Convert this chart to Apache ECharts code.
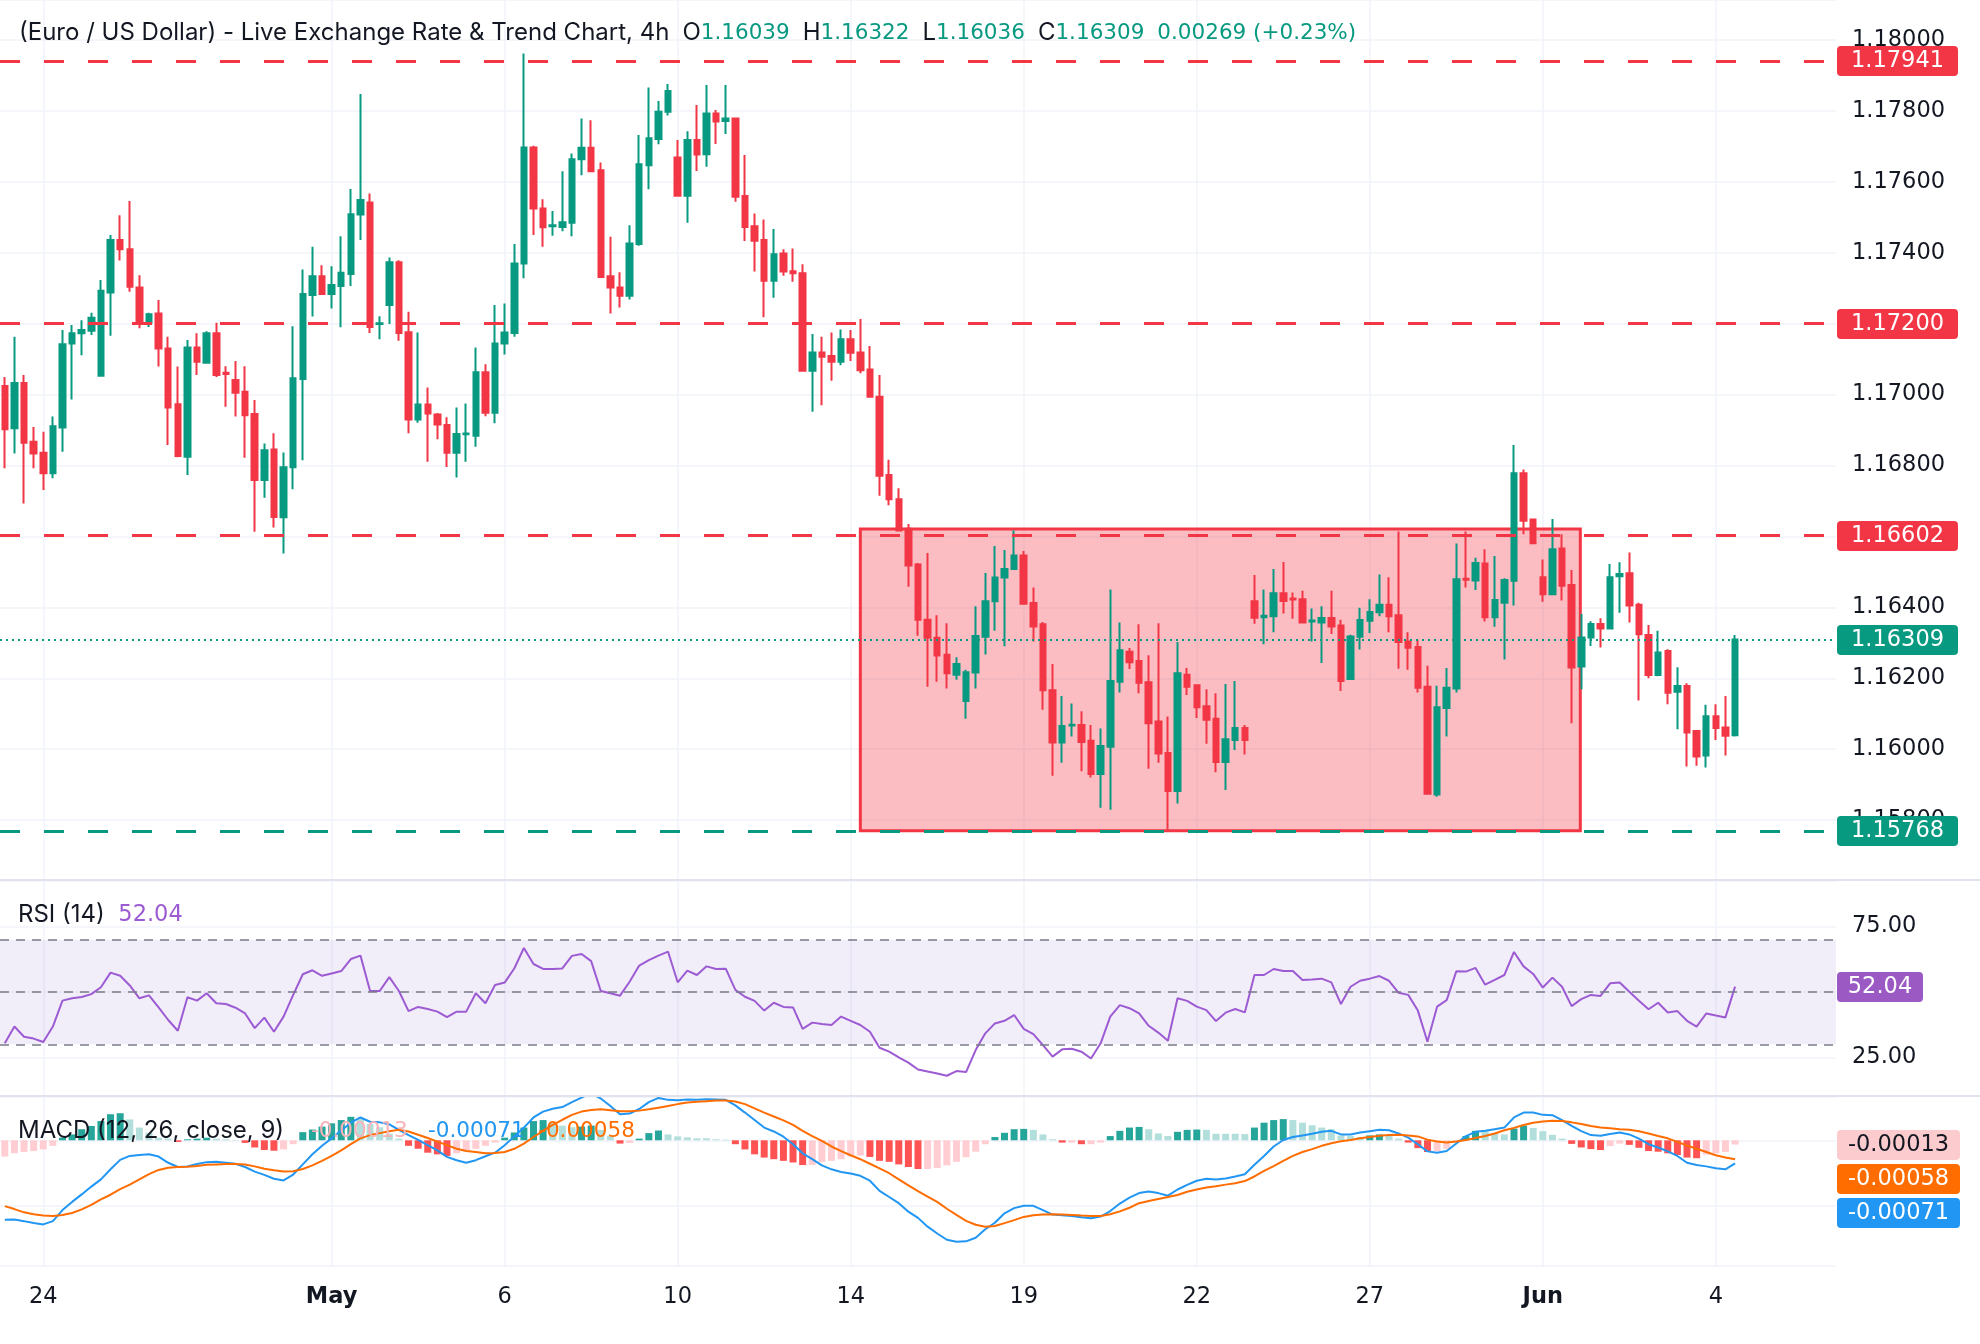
<!DOCTYPE html>
<html>
<head>
<meta charset="utf-8">
<title>EUR/USD 4h</title>
<script src="https://cdn.jsdelivr.net/npm/echarts@6/dist/echarts.min.js"></script>
<style>
  html, body { margin: 0; padding: 0; background: #ffffff; }
  #chart { width: 1980px; height: 1344px; }
</style>
</head>
<body>
<div id="chart"></div>
<script>
// ---- data ----
// 4h candles, [open, high, low, close]
const candles = [
  [1.17024,1.17050,1.16792,1.16902],[1.16905,1.17163,1.16834,1.17033],[1.17033,1.17055,1.16693,1.16864],[1.16867,1.16909,1.16792,1.16834],
  [1.16836,1.16895,1.16731,1.16778],[1.16778,1.16938,1.16764,1.16911],[1.16907,1.17182,1.16839,1.17142],[1.17144,1.17196,1.16986,1.17173],
  [1.17173,1.17210,1.17111,1.17182],[1.17180,1.17231,1.17168,1.17217],[1.17053,1.17323,1.17053,1.17293],[1.17288,1.17450,1.17166,1.17436],
  [1.17436,1.17506,1.17378,1.17410],[1.17410,1.17546,1.17290,1.17304],[1.17302,1.17337,1.17187,1.17201],[1.17203,1.17231,1.17191,1.17227],
  [1.17229,1.17267,1.17079,1.17130],[1.17130,1.17163,1.16858,1.16964],[1.16973,1.17079,1.16823,1.16827],[1.16825,1.17154,1.16773,1.17133],
  [1.17133,1.17173,1.17055,1.17093],[1.17090,1.17179,1.17090,1.17173],[1.17173,1.17203,1.17050,1.17055],[1.17062,1.17080,1.16966,1.17058],
  [1.17041,1.17095,1.16938,1.17005],[1.17008,1.17080,1.16822,1.16942],[1.16945,1.16985,1.16613,1.16759],[1.16759,1.16862,1.16709,1.16843],
  [1.16845,1.16891,1.16625,1.16655],[1.16654,1.16837,1.16552,1.16795],[1.16795,1.17193,1.16733,1.17046],[1.17044,1.17353,1.16815,1.17284],
  [1.17281,1.17417,1.17220,1.17334],[1.17334,1.17365,1.17281,1.17284],[1.17284,1.17362,1.17243,1.17309],[1.17306,1.17447,1.17190,1.17344],
  [1.17340,1.17580,1.17306,1.17509],[1.17508,1.17848,1.17436,1.17549],[1.17542,1.17567,1.17174,1.17191],[1.17199,1.17221,1.17156,1.17201],
  [1.17253,1.17387,1.17199,1.17373],[1.17373,1.17379,1.17152,1.17174],[1.17176,1.17234,1.16891,1.16930],[1.16930,1.17175,1.16921,1.16972],
  [1.16972,1.17020,1.16811,1.16947],[1.16944,1.16948,1.16874,1.16916],[1.16914,1.16936,1.16796,1.16836],[1.16836,1.16964,1.16766,1.16889],
  [1.16888,1.16975,1.16811,1.16890],[1.16884,1.17133,1.16853,1.17063],[1.17063,1.17086,1.16939,1.16949],[1.16949,1.17253,1.16919,1.17144],
  [1.17144,1.17257,1.17113,1.17175],[1.17174,1.17425,1.17163,1.17370],[1.17370,1.17962,1.17328,1.17697],[1.17697,1.17702,1.17450,1.17525],
  [1.17525,1.17551,1.17417,1.17472],[1.17475,1.17518,1.17448,1.17478],[1.17473,1.17630,1.17461,1.17486],[1.17485,1.17680,1.17447,1.17664],
  [1.17664,1.17779,1.17619,1.17696],[1.17696,1.17774,1.17629,1.17630],[1.17633,1.17655,1.17332,1.17332],[1.17334,1.17445,1.17229,1.17302],
  [1.17302,1.17345,1.17246,1.17279],[1.17279,1.17478,1.17268,1.17426],[1.17425,1.17732,1.17420,1.17650],[1.17647,1.17866,1.17579,1.17723],
  [1.17721,1.17828,1.17706,1.17798],[1.17798,1.17876,1.17787,1.17856],[1.17669,1.17718,1.17561,1.17561],[1.17561,1.17743,1.17485,1.17718],
  [1.17718,1.17817,1.17631,1.17677],[1.17678,1.17873,1.17643,1.17793],[1.17793,1.17803,1.17707,1.17770],[1.17772,1.17873,1.17735,1.17779],
  [1.17779,1.17781,1.17544,1.17558],[1.17560,1.17676,1.17433,1.17473],[1.17475,1.17511,1.17347,1.17434],[1.17436,1.17494,1.17218,1.17321],
  [1.17321,1.17467,1.17273,1.17396],[1.17398,1.17410,1.17335,1.17347],[1.17348,1.17412,1.17318,1.17342],[1.17342,1.17368,1.17067,1.17067],
  [1.17067,1.17171,1.16952,1.17119],[1.17119,1.17163,1.16970,1.17107],[1.17109,1.17175,1.17039,1.17093],[1.17093,1.17184,1.17083,1.17156],
  [1.17156,1.17182,1.17095,1.17118],[1.17119,1.17213,1.17060,1.17069],[1.17071,1.17137,1.16994,1.16994],[1.16994,1.17055,1.16715,1.16771],
  [1.16773,1.16816,1.16688,1.16705],[1.16705,1.16736,1.16614,1.16617],[1.16622,1.16635,1.16458,1.16518],[1.16521,1.16525,1.16320,1.16365],
  [1.16365,1.16553,1.16176,1.16314],[1.16314,1.16378,1.16190,1.16264],[1.16266,1.16355,1.16171,1.16214],[1.16210,1.16259,1.16196,1.16240],
  [1.16136,1.16224,1.16086,1.16217],[1.16216,1.16403,1.16171,1.16319],[1.16317,1.16497,1.16267,1.16417],[1.16417,1.16573,1.16334,1.16484],
  [1.16484,1.16562,1.16290,1.16508],[1.16508,1.16617,1.16508,1.16546],[1.16546,1.16559,1.16408,1.16410],[1.16412,1.16456,1.16304,1.16346],
  [1.16352,1.16359,1.16111,1.16166],[1.16166,1.16240,1.15925,1.16019],[1.16019,1.16150,1.15962,1.16065],[1.16067,1.16129,1.16036,1.16069],
  [1.16068,1.16107,1.15938,1.16020],[1.16024,1.16068,1.15920,1.15930],[1.15930,1.16058,1.15835,1.16009],[1.16007,1.16450,1.15829,1.16192],
  [1.16190,1.16357,1.16160,1.16279],[1.16275,1.16285,1.16226,1.16245],[1.16249,1.16352,1.16158,1.16187],[1.16189,1.16265,1.15945,1.16073],
  [1.16078,1.16355,1.15962,1.15988],[1.15989,1.16092,1.15773,1.15882],[1.15882,1.16302,1.15847,1.16214],[1.16210,1.16229,1.16153,1.16176],
  [1.16180,1.16182,1.16088,1.16118],[1.16121,1.16169,1.16015,1.16083],[1.16086,1.16158,1.15935,1.15964],[1.15964,1.16184,1.15885,1.16028],
  [1.16026,1.16192,1.15998,1.16060],[1.16060,1.16068,1.15985,1.16026],[1.16417,1.16491,1.16354,1.16371],[1.16372,1.16450,1.16296,1.16376],
  [1.16375,1.16508,1.16330,1.16440],[1.16440,1.16528,1.16383,1.16418],[1.16425,1.16442,1.16368,1.16422],[1.16423,1.16447,1.16357,1.16357],
  [1.16360,1.16397,1.16304,1.16363],[1.16357,1.16403,1.16243,1.16370],[1.16370,1.16447,1.16325,1.16346],[1.16349,1.16365,1.16164,1.16192],
  [1.16198,1.16323,1.16198,1.16318],[1.16317,1.16399,1.16281,1.16364],[1.16362,1.16423,1.16328,1.16387],[1.16386,1.16493,1.16375,1.16407],
  [1.16407,1.16485,1.16330,1.16375],[1.16378,1.16614,1.16227,1.16302],[1.16304,1.16330,1.16224,1.16286],[1.16288,1.16309,1.16160,1.16173],
  [1.16176,1.16235,1.15872,1.15874],[1.15872,1.16179,1.15866,1.16118],[1.16116,1.16229,1.16036,1.16173],[1.16171,1.16580,1.16160,1.16479],
  [1.16481,1.16614,1.16456,1.16478],[1.16476,1.16540,1.16449,1.16525],[1.16524,1.16564,1.16360,1.16372],[1.16372,1.16545,1.16345,1.16421],
  [1.16413,1.16482,1.16253,1.16477],[1.16475,1.16858,1.16405,1.16778],[1.16778,1.16789,1.16606,1.16644],[1.16648,1.16650,1.16581,1.16581],
  [1.16485,1.16535,1.16416,1.16437],[1.16437,1.16649,1.16437,1.16564],[1.16566,1.16606,1.16419,1.16461],[1.16463,1.16505,1.16073,1.16230],
  [1.16233,1.16381,1.16169,1.16315],[1.16315,1.16361,1.16291,1.16353],[1.16353,1.16369,1.16287,1.16340],[1.16340,1.16522,1.16340,1.16485],
  [1.16488,1.16527,1.16385,1.16494],[1.16496,1.16555,1.16357,1.16405],[1.16407,1.16413,1.16137,1.16324],[1.16322,1.16350,1.16200,1.16209],
  [1.16209,1.16334,1.16206,1.16273],[1.16277,1.16282,1.16127,1.16159],[1.16162,1.16231,1.16056,1.16178],[1.16178,1.16186,1.15951,1.16047],
  [1.16051,1.16053,1.15953,1.15979],[1.15982,1.16125,1.15948,1.16093],[1.16093,1.16127,1.16026,1.16060],[1.16061,1.16150,1.15982,1.16038],
  [1.16039,1.16322,1.16036,1.16309]
];

// RSI (14)
const rsi = [
  30.4,36.8,32.9,32.2,30.9,36.8,46.7,47.6,48.1,49.2,
  51.8,57.4,56.2,52.5,47.6,48.7,44.1,39.3,35.2,48.0,
  46.7,49.5,45.7,45.4,44.0,41.8,36.2,40.2,34.8,40.6,
  48.9,56.8,58.3,56.2,57.1,58.0,62.6,63.9,50.4,50.4,
  55.7,50.4,42.7,44.3,43.5,42.5,40.4,42.5,42.5,49.5,
  45.7,52.7,53.6,59.0,66.8,60.7,58.8,58.8,59.0,63.8,
  64.5,61.8,50.4,49.5,48.6,53.9,60.1,62.2,63.9,65.4,
  53.7,58.2,56.5,59.8,58.8,58.9,50.8,48.2,46.6,42.9,
  45.9,44.3,44.1,35.9,38.3,37.8,37.4,40.6,39.0,37.4,
  34.8,28.7,27.2,25.0,23.0,20.4,19.6,18.9,18.0,19.8,
  19.4,27.8,34.2,38.0,39.0,41.2,35.9,33.9,29.7,25.3,
  28.1,28.3,27.2,24.6,30.4,40.6,45.0,43.8,41.8,37.1,
  34.5,31.4,47.6,46.6,44.4,43.1,38.9,42.1,43.5,42.2,
  56.5,56.5,58.8,58.0,58.0,54.6,54.8,55.1,53.7,45.4,
  52.0,54.3,55.1,56.1,54.3,49.7,48.9,42.9,31.0,44.4,
  46.9,57.9,57.8,59.2,52.8,54.6,56.5,65.3,59.8,56.9,
  51.7,55.5,52.0,44.6,47.3,48.9,48.5,53.3,53.6,50.1,
  46.7,43.4,45.9,42.2,42.7,39.0,36.8,41.8,41.0,40.3,
  52.04
];

// MACD (12, 26, close, 9), in units of 0.00001
const macdE5 = [
  -244,-243,-248,-254,-258,-248,-214,-189,-166,-142,
  -120,-89,-60,-48,-45,-43,-50,-69,-82,-80,
  -73,-67,-66,-69,-72,-82,-96,-106,-118,-123,
  -105,-74,-43,-17,6,30,54,70,57,55,
  49,32,16,1,-15,-31,-51,-61,-69,-61,
  -49,-38,-15,12,39,70,88,97,102,117,
  131,145,128,105,80,82,96,117,130,124,
  123,125,124,126,125,124,107,85,62,39,
  27,11,-12,-40,-58,-77,-89,-97,-102,-109,
  -124,-155,-174,-193,-219,-238,-265,-286,-305,-311,
  -310,-299,-273,-253,-224,-208,-201,-201,-214,-228,
  -230,-232,-236,-239,-234,-217,-194,-176,-162,-157,
  -162,-170,-151,-137,-124,-118,-120,-117,-111,-104,
  -75,-48,-19,1,10,15,20,26,29,18,
  18,24,28,32,31,21,8,-12,-34,-38,
  -33,-10,13,26,29,34,39,70,85,85,
  78,77,62,44,28,16,14,19,24,18,
  5,-12,-22,-34,-48,-69,-76,-80,-86,-89,
  -71
];
const signalE5 = [
  -202,-211,-221,-227,-231,-232,-229,-223,-212,-198,
  -181,-167,-150,-136,-120,-104,-91,-84,-82,-81,
  -79,-75,-74,-73,-73,-74,-80,-87,-92,-96,
  -95,-88,-77,-63,-48,-31,-12,6,16,22,
  28,32,27,17,7,-4,-15,-26,-33,-36,
  -40,-39,-36,-26,-10,10,29,47,63,78,
  88,93,95,92,89,89,91,95,100,105,
  111,116,118,120,122,122,119,111,98,85,
  73,61,47,29,13,-2,-19,-33,-46,-58,
  -72,-86,-101,-120,-138,-156,-173,-189,-210,-229,
  -247,-259,-265,-263,-254,-245,-235,-230,-228,-227,
  -228,-229,-231,-232,-232,-227,-218,-207,-193,-186,
  -180,-174,-168,-158,-151,-145,-141,-136,-132,-125,
  -111,-94,-79,-63,-48,-36,-27,-17,-9,-3,
  1,6,10,14,16,17,15,12,2,-4,
  -7,-4,1,7,13,21,31,38,47,54,
  58,60,59,55,50,44,39,37,34,32,
  28,21,13,6,-5,-16,-26,-36,-46,-53,
  -58
];
const histE5 = [
  -50,-40,-36,-33,-28,-17,8,18,34,44,
  59,80,83,64,39,23,8,5,-5,3,
  5,8,5,3,1,-8,-22,-30,-32,-28,
  -12,25,33,42,52,62,72,68,50,40,
  20,5,-17,-26,-38,-43,-48,-40,-33,-26,
  -17,-7,8,24,39,59,62,55,45,40,
  42,45,32,13,-10,-8,5,22,30,18,
  12,9,6,6,3,2,-12,-28,-43,-53,
  -58,-63,-68,-76,-76,-67,-63,-58,-50,-47,
  -51,-63,-66,-74,-82,-88,-88,-85,-77,-66,
  -52,-35,-12,10,23,34,35,32,18,3,
  -7,-7,-12,-12,-7,13,29,39,41,34,
  21,13,26,32,33,32,20,20,20,19,
  39,54,62,65,62,54,46,39,34,15,
  13,10,15,18,15,5,-7,-24,-36,-34,
  -26,-6,13,29,29,21,18,36,45,38,
  28,17,5,-11,-22,-27,-30,-18,-10,-14,
  -23,-33,-35,-40,-45,-53,-55,-44,-40,-36,
  -13
];

// horizontal levels and the shaded range
const levelsRed = [1.17941, 1.17200, 1.16602];
const levelsGreen = [1.15768];
const lastPrice = 1.16309;
const rangeBox = [[89.0, 163.9, 1.15770, 1.16621]]; // [fromBar, toBar, low, high]

// header values
const headOHLC = ['1.16039', '1.16322', '1.16036', '1.16309'];
const headChange = '0.00269 (+0.23%)';

// time axis labels (bar index -> text)
const tickIndex = [4, 34, 52, 70, 88, 106, 124, 142, 160, 178];
const tickText = ['24', 'May', '6', '10', '14', '19', '22', '27', 'Jun', '4'];
const monthTicks = ['May', 'Jun'];

// ---- chart ----
const FONT = 'Inter, "Noto Sans", Roboto, sans-serif';
const NUM = '"DejaVu Sans", Inter, sans-serif';
const INK = '#131722';
const UP = '#089981';
const DOWN = '#F23645';
const GRID = '#F0F3FA';
const slots = 191; // bars + empty space on the right

const cats = [];
for (let i = 0; i < slots; i++) cats.push(String(i));
const isTick = (idx) => tickIndex.indexOf(idx) >= 0;

function catAxis(gi, withLabels) {
    return {
        type: 'category',
        gridIndex: gi,
        data: cats,
        boundaryGap: true,
        axisLine: { show: false },
        axisTick: { show: false },
        axisLabel: withLabels ? {
            interval: isTick,
            margin: 20,
            fontFamily: NUM,
            fontSize: 22.5,
            color: INK,
            formatter: function (v, idx) {
                const t = tickText[tickIndex.indexOf(idx)];
                return monthTicks.indexOf(t) >= 0 ? '{b|' + t + '}' : t;
            },
            rich: { b: { fontFamily: NUM, fontSize: 22.5, fontWeight: 'bold', color: INK } }
        } : { show: false },
        splitLine: { show: true, interval: isTick, alignWithLabel: true, lineStyle: { color: GRID, width: 1.5 } }
    };
}

const candleData = candles.map(c => [c[0], c[3], c[2], c[1]]);

const histData = histE5.map((v, i) => {
    const prev = i > 0 ? histE5[i - 1] : v;
    let color;
    if (v >= 0) color = v > prev ? '#26A69A' : '#B2DFDB';
    else color = v < prev ? '#FF5252' : '#FFCDD2';
    return { value: v / 1e5, itemStyle: { color: color } };
});

const levelLines = [];
levelsRed.forEach(v => levelLines.push({ yAxis: v, lineStyle: { color: DOWN, type: [20, 24], width: 3 } }));
levelsGreen.forEach(v => levelLines.push({ yAxis: v, lineStyle: { color: UP, type: [20, 24], width: 3 } }));
levelLines.push({ yAxis: lastPrice, lineStyle: { color: UP, type: [2, 4], width: 2 } });

const chart = echarts.init(document.getElementById('chart'), null, { renderer: 'canvas' });

const option = {
    animation: false,
    backgroundColor: '#ffffff',
    grid: [
        { left: 0, top: 0, width: 1836, height: 880 },
        { left: 0, top: 881, width: 1836, height: 215 },
        { left: 0, top: 1097, width: 1836, height: 169 }
    ],
    xAxis: [
        catAxis(0, false),
        catAxis(1, false),
        catAxis(2, true),
        { type: 'value', gridIndex: 0, min: -0.5, max: slots - 0.5, show: false }
    ],
    yAxis: [
        {
            type: 'value', gridIndex: 0, position: 'right',
            min: 1.15631, max: 1.18113, splitNumber: 12, minInterval: 0.002, maxInterval: 0.002,
            axisLine: { show: false }, axisTick: { show: false },
            axisLabel: {
                margin: 16, fontFamily: NUM, fontSize: 22.5, color: INK,
                showMinLabel: false, showMaxLabel: false,
                formatter: v => v.toFixed(5)
            },
            splitLine: { lineStyle: { color: GRID, width: 1.5 } }
        },
        {
            type: 'value', gridIndex: 1, position: 'right',
            min: 10.27, max: 92.41, splitNumber: 3, minInterval: 25, maxInterval: 25,
            axisLine: { show: false }, axisTick: { show: false },
            axisLabel: {
                margin: 16, fontFamily: NUM, fontSize: 22.5, color: INK,
                formatter: v => (v === 25 || v === 75) ? v.toFixed(2) : ''
            },
            splitLine: { lineStyle: { color: GRID, width: 1.5 } }
        },
        {
            type: 'value', gridIndex: 2, position: 'right',
            min: -0.003856, max: 0.001328, splitNumber: 3, minInterval: 0.002, maxInterval: 0.002,
            axisLine: { show: false }, axisTick: { show: false },
            axisLabel: { show: false },
            splitLine: { lineStyle: { color: GRID, width: 1.5 } }
        }
    ],
    series: [
        {
            name: 'range',
            type: 'custom',
            xAxisIndex: 3,
            yAxisIndex: 0,
            z: 1,
            silent: true,
            data: rangeBox,
            renderItem: function (params, api) {
                const a = api.coord([api.value(0), api.value(3)]);
                const b = api.coord([api.value(1), api.value(2)]);
                return {
                    type: 'rect',
                    shape: { x: a[0], y: a[1], width: b[0] - a[0], height: b[1] - a[1] },
                    style: { fill: 'rgba(242,54,69,0.33)', stroke: DOWN, lineWidth: 3 }
                };
            }
        },
        {
            name: 'EURUSD',
            type: 'candlestick',
            xAxisIndex: 0,
            yAxisIndex: 0,
            z: 3,
            barWidth: 6,
            data: candleData,
            itemStyle: { color: UP, color0: DOWN, borderColor: UP, borderColor0: DOWN, borderWidth: 2 },
            markLine: {
                silent: true,
                precision: 5,
                symbol: ['none', 'none'],
                label: { show: false },
                data: levelLines
            }
        },
        {
            name: 'RSI',
            type: 'line',
            xAxisIndex: 1,
            yAxisIndex: 1,
            data: rsi,
            showSymbol: false,
            lineStyle: { color: '#9C5BD2', width: 2 },
            markArea: {
                silent: true,
                itemStyle: { color: 'rgba(126,87,194,0.1)' },
                data: [[{ yAxis: 30 }, { yAxis: 70 }]]
            },
            markLine: {
                silent: true,
                symbol: ['none', 'none'],
                label: { show: false },
                lineStyle: { color: '#787B86', type: [9, 7], width: 1.5 },
                data: [{ yAxis: 70 }, { yAxis: 50 }, { yAxis: 30 }]
            }
        },
        {
            name: 'Histogram',
            type: 'bar',
            xAxisIndex: 2,
            yAxisIndex: 2,
            barWidth: 7,
            data: histData
        },
        {
            name: 'MACD',
            type: 'line',
            xAxisIndex: 2,
            yAxisIndex: 2,
            data: macdE5.map(v => v / 1e5),
            showSymbol: false,
            lineStyle: { color: '#2196F3', width: 2 }
        },
        {
            name: 'Signal',
            type: 'line',
            xAxisIndex: 2,
            yAxisIndex: 2,
            data: signalE5.map(v => v / 1e5),
            showSymbol: false,
            lineStyle: { color: '#FF6D00', width: 2 }
        }
    ]
};

chart.setOption(option);

// ---- value tags on the right scale and the pane legends ----
function tag(yc, w, text, bg, fg) {
    const top = Math.round(yc) - 15;
    return [
        { type: 'rect', z: 100, shape: { x: 1837, y: top, width: w, height: 30, r: 4 }, style: { fill: bg } },
        { type: 'text', z: 101, x: 1837 + w / 2, y: top + 15, style: { text: text, fill: fg, fontFamily: NUM, fontSize: 22.5, align: 'center', verticalAlign: 'middle' } }
    ];
}

const py = v => chart.convertToPixel({ yAxisIndex: 0 }, v);
const ry = v => chart.convertToPixel({ yAxisIndex: 1 }, v);
const my = v => chart.convertToPixel({ yAxisIndex: 2 }, v);

const last = candles.length - 1;
let tags = [];
levelsRed.forEach(v => { tags = tags.concat(tag(py(v), 121, v.toFixed(5), DOWN, '#ffffff')); });
tags = tags.concat(tag(py(lastPrice), 121, lastPrice.toFixed(5), UP, '#ffffff'));
levelsGreen.forEach(v => { tags = tags.concat(tag(py(v), 121, v.toFixed(5), UP, '#ffffff')); });
tags = tags.concat(tag(ry(rsi[last]), 86, rsi[last].toFixed(2), '#9B59C4', '#ffffff'));

// MACD tags are stacked so they do not overlap
const macdTags = [
    { v: histE5[last] / 1e5, bg: '#FCCBCD', fg: INK },
    { v: signalE5[last] / 1e5, bg: '#FF6D00', fg: '#ffffff' },
    { v: macdE5[last] / 1e5, bg: '#2196F3', fg: '#ffffff' }
].map(t => Object.assign(t, { y: my(t.v) })).sort((a, b) => a.y - b.y);
let prevY = -1e9;
macdTags.forEach(t => {
    const y = Math.max(t.y, prevY + 34);
    prevY = y;
    tags = tags.concat(tag(y, 123, t.v.toFixed(5), t.bg, t.fg));
});

const fmt = v => v.toFixed(5);
const wordStyle = { fontFamily: FONT, fontSize: 24, fill: INK };
const gap = w => ({ width: w, fontSize: 10 });

const legends = [
    {
        type: 'text', x: 19, y: 33, z: 100,
        style: {
            text: '{k|(Euro / US Dollar) - Live Exchange Rate & Trend Chart, 4h}{g1| }{k|O}{g|' + headOHLC[0] + '}{g2| }{k|H}{g|' + headOHLC[1] +
                '}{g2| }{k|L}{g|' + headOHLC[2] + '}{g2| }{k|C}{g|' + headOHLC[3] + '}{g2| }{g|' + headChange + '}',
            verticalAlign: 'middle',
            rich: {
                k: wordStyle,
                g: { fontFamily: NUM, fontSize: 21.5, fill: UP },
                g1: gap(13),
                g2: gap(13)
            }
        }
    },
    {
        type: 'text', x: 18, y: 915, z: 100,
        style: {
            text: '{k|RSI (14)}{k|  }{p|' + rsi[last].toFixed(2) + '}',
            verticalAlign: 'middle',
            rich: {
                k: wordStyle,
                p: { fontFamily: NUM, fontSize: 22.5, fill: '#9C5BD2' }
            }
        }
    },
    {
        type: 'text', x: 18, y: 1131, z: 100,
        style: {
            text: '{k|MACD (12, 26, close, 9)}{k|    }{h|' + fmt(histE5[last] / 1e5) + '}{k|   }{b|' + fmt(macdE5[last] / 1e5) + '}{k|  }{o|' + fmt(signalE5[last] / 1e5) + '}',
            verticalAlign: 'middle',
            rich: {
                k: wordStyle,
                h: { fontFamily: NUM, fontSize: 21.5, fill: '#F7B3B8' },
                b: { fontFamily: NUM, fontSize: 21.5, fill: '#2196F3' },
                o: { fontFamily: NUM, fontSize: 21.5, fill: '#FF6D00' }
            }
        }
    },
    // pane separators
    { type: 'line', z: 50, shape: { x1: 0, y1: 880, x2: 1980, y2: 880 }, style: { stroke: '#E0E3EB', lineWidth: 2 } },
    { type: 'line', z: 50, shape: { x1: 0, y1: 1096, x2: 1980, y2: 1096 }, style: { stroke: '#E0E3EB', lineWidth: 2 } }
];

chart.setOption({ graphic: legends.concat(tags) });
</script>
</body>
</html>
